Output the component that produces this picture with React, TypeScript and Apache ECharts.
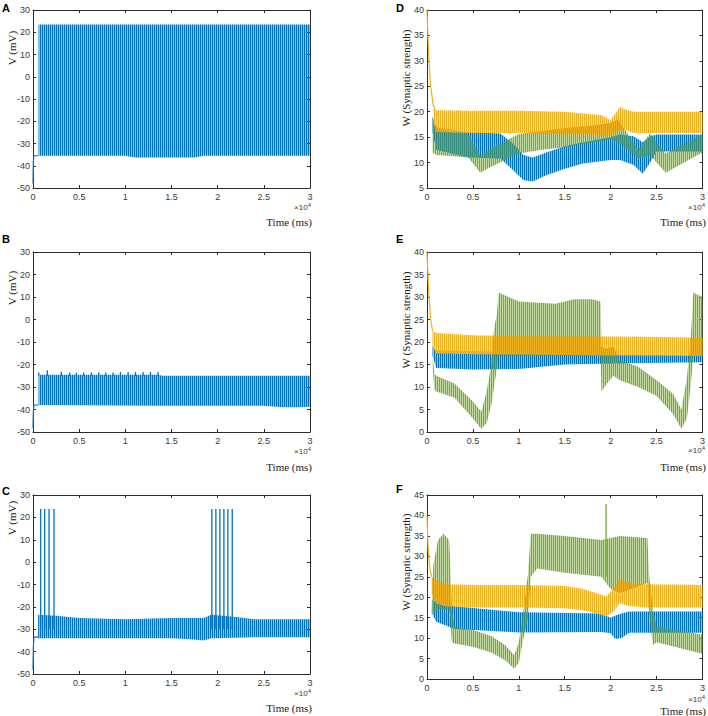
import React, { useEffect, useRef } from 'react';
import * as echarts from 'echarts';

const BLUE = '#0072BD';
const YELLOW = '#EDB120';
const GREEN = '#77AC30';

// ---------- Panel A (membrane potential) ----------
const aPreT = [0, 40, 100, 600];
const aPreV = [-48, -38, -35.5, -35.5];
const aBandT = [600, 10000, 11000, 17500, 18500, 30000];
const aBandLo = [-35.5, -35.5, -36.3, -36.3, -35.5, -35.5];
const aBandHi = [23.5, 23.5, 23.5, 23.5, 23.5, 23.5];

// ---------- Panel B ----------
const bPreT = [0, 40, 100, 600];
const bPreV = [-48, -41, -38, -38];
const bBandT = [600, 13600, 14000, 25000, 27000, 29000, 30000];
const bBandLo = [-38, -38.3, -38.3, -38.3, -39, -39, -38.8];
const bBandHi = [-24.5, -24.5, -25, -25, -25, -25, -25];
const bSpikeT = [614, 1554, 3072, 3976, 4699, 5494, 6325, 7120, 7880, 8675, 9470, 10301, 11096, 11928, 12723, 13554];
const bSpikePeak = [-23.5, -22.6, -23.3, -23.6, -23.6, -23.6, -23.5, -23.5, -23.5, -23.5, -23.3, -23.3, -23.3, -23.3, -23.3, -23.3];
const bSpikeBase = -25;

// ---------- Panel C ----------
const cPreT = [0, 40, 100, 550];
const cPreV = [-48, -38, -33.5, -33.5];
const cBandT = [550, 2500, 5000, 10000, 15000, 17000, 18500, 19300, 22000, 24000, 30000];
const cBandLo = [-34, -34, -34, -34, -34, -34.5, -35, -34, -33.8, -33.6, -33.6];
const cBandHi = [-23.5, -24, -25, -25.5, -25, -25, -25, -23.5, -24.5, -25.5, -25.5];
const cSpikeT = [831, 1265, 1735, 2277, 19373, 19807, 20241, 20675, 21108, 21578];
const cSpikePeak = [23.7, 23.7, 23.7, 23.7, 23.7, 23.7, 23.7, 23.7, 23.7, 23.7];
const cSpikeBase = -30;

// ---------- Panel D (synaptic weights) ----------
const dDecayT = [0, 100, 220, 400, 700];
const dDecayV = [40, 35, 30, 25, 21];
const dYT = [700, 1000, 5000, 10000, 15000, 18000, 19000, 20000, 21000, 21500, 22500, 30000];
const dYLo = [18, 16, 15.8, 15.8, 15.5, 15.5, 15.3, 15.3, 16.5, 16.5, 15.8, 15.8];
const dYHi = [21.5, 20.3, 20.2, 20.2, 20, 19.5, 19.3, 18.3, 21.0, 20.5, 20, 20];
const dBT = [600, 1000, 4500, 8000, 9500, 10500, 11500, 13000, 15000, 17000, 20000, 21000, 22500, 23500, 24300, 25000, 30000];
const dBLo = [16, 12.5, 11, 10.8, 8.3, 6.5, 6.3, 7.5, 8.8, 9.8, 10.5, 10.5, 9.5, 7.8, 10, 12.2, 12.2];
const dBHi = [19, 17, 16, 15.7, 13.5, 11.5, 11, 12, 13.2, 14, 15, 15.5, 15.2, 14, 15.2, 15.5, 15.5];
const dGT = [600, 1000, 2500, 4500, 5800, 7000, 8500, 10000, 12500, 15000, 17500, 20000, 20800, 23000, 24300, 25000, 26000, 28000, 30000];
const dGLo = [12, 11.5, 11.3, 11, 8, 9.2, 10.5, 11.8, 12.5, 13, 13.8, 14.5, 14, 10.8, 11.5, 10, 8, 10, 12];
const dGHi = [19, 17, 16, 15.5, 11.5, 12.8, 14.2, 15.6, 16.2, 16.8, 17.2, 17.8, 18.5, 12.5, 15.8, 14, 11.8, 13.8, 15.5];

// ---------- Panel E ----------
const eDecayT = [0, 100, 220, 400, 600];
const eDecayV = [40, 35, 30, 25, 22.5];
const eYT = [600, 1000, 5000, 10000, 20000, 30000];
const eYLo = [19, 17.5, 17.3, 17.2, 17, 17];
const eYHi = [22.5, 22, 21.5, 21.3, 21.2, 21];
const eBT = [600, 1000, 5000, 10000, 15000, 20000, 30000];
const eBLo = [17, 14.2, 13.9, 14, 15, 15.2, 15.5];
const eBHi = [19, 18.2, 18, 17.8, 17.3, 17.2, 17];
const eGT = [600, 800, 1000, 3000, 5000, 5900, 6500, 7000, 7300, 7600, 7800, 10000, 14000, 16000, 18000, 18900, 19000, 19500, 20300, 21000, 23000, 25000, 26800, 27700, 28300, 28700, 29000, 30000];
const eGLo = [15, 9.5, 9, 7.6, 3, 0.7, 2, 6, 10, 14, 17, 17, 17, 17, 17, 17, 9, 10.5, 12.5, 11.5, 10, 8, 4, 0.7, 3, 10, 17, 17];
const eGHi = [17, 13, 12.5, 10.8, 6.8, 4.5, 9, 15, 23, 26, 31, 29, 28.5, 29.5, 29.5, 29, 19, 18.5, 19, 16, 14.5, 11.5, 8.5, 5, 12, 20, 31, 30];

// ---------- Panel F ----------
const fDecayT = [0, 100, 250, 500];
const fDecayV = [40, 33, 28, 25];
const fYT = [500, 1000, 2000, 5000, 10000, 15000, 17000, 18500, 19500, 20300, 21000, 22000, 24000, 30000];
const fYLo = [21, 18.5, 17.8, 17.5, 17.5, 17.3, 16.8, 16, 15.3, 16.5, 18.5, 17.8, 17.5, 17.5];
const fYHi = [25, 24, 23.2, 23, 23, 22.8, 22, 21, 20.2, 22, 24.5, 23.5, 23.2, 23];
const fBT = [600, 1000, 3000, 10000, 19000, 20000, 20500, 21200, 22000, 30000];
const fBLo = [15.8, 14, 12.2, 11.4, 11.5, 11.2, 9.8, 10, 11.3, 11.3];
const fBHi = [19.3, 18.8, 17.8, 16.3, 16, 15, 15.5, 16, 16.5, 16.5];
const fGT = [500, 700, 1200, 1800, 2400, 2500, 2700, 3000, 5000, 7000, 8500, 9500, 10000, 10500, 11000, 11300, 12000, 15000, 19000, 20000, 21000, 24000, 24200, 24600, 25000, 30000];
const fGLo = [16, 16, 17, 17, 17, 16, 9, 8.7, 7.9, 6.5, 4.6, 2.5, 4, 10, 15, 25, 27, 26, 25, 22, 21, 23.5, 16, 8.3, 9, 6.2];
const fGHi = [16.5, 28, 34, 35.5, 34, 30, 17, 12.9, 12, 10.5, 8.3, 5.8, 9, 16.6, 25.7, 35.5, 35.5, 35, 34, 34.5, 35, 34.5, 25, 17, 12.9, 10.8];
const fGSpikeT = [19500];
const fGSpikePeak = [42.8];
const fGSpikeBase = 25;

// axis tick settings
const xMax = 30000;
const xInterval = 5000;

type Panel = {
  key: string; left: number; top: number; width: number; height: number;
  ymin: number; ymax: number; yint: number; ylabel: string;
  ylabelY: number; letterY: number; expY: number; timeY: number;
};

const PANELS: Panel[] = [
  { key: 'A', left: 33, top: 10, width: 277, height: 178, ymin: -50, ymax: 30, yint: 10, ylabel: 'V (mV)', ylabelY: 48, letterY: 2, expY: 207, timeY: 222 },
  { key: 'B', left: 33, top: 252, width: 277, height: 180, ymin: -50, ymax: 30, yint: 10, ylabel: 'V (mV)', ylabelY: 288, letterY: 233, expY: 451, timeY: 467 },
  { key: 'C', left: 33, top: 495, width: 277, height: 179, ymin: -50, ymax: 30, yint: 10, ylabel: 'V (mV)', ylabelY: 518, letterY: 485, expY: 693, timeY: 708 },
  { key: 'D', left: 427, top: 10, width: 277, height: 178, ymin: 5, ymax: 40, yint: 5, ylabel: 'W (Synaptic strength)', ylabelY: 78, letterY: 2, expY: 207, timeY: 222 },
  { key: 'E', left: 427, top: 252, width: 277, height: 180, ymin: 0, ymax: 40, yint: 5, ylabel: 'W (Synaptic strength)', ylabelY: 320, letterY: 233, expY: 450, timeY: 467 },
  { key: 'F', left: 427, top: 495, width: 277, height: 184, ymin: 0, ymax: 45, yint: 5, ylabel: 'W (Synaptic strength)', ylabelY: 562, letterY: 483, expY: 699, timeY: 711 },
];

function stripe(hex: string, offset: number) {
  const c = document.createElement('canvas');
  c.width = 2; c.height = 1;
  const ctx = c.getContext('2d')!;
  ctx.fillStyle = hex;
  ctx.globalAlpha = 1;
  ctx.fillRect(offset, 0, 1, 1);
  ctx.globalAlpha = 0.45;
  ctx.fillRect(1 - offset, 0, 1, 1);
  return { image: c.toDataURL(), repeat: 'repeat', imageWidth: 2, imageHeight: 1 };
}

function band(gi: number, t: number[], lo: number[], hi: number[], fill: any) {
  const data = t.map((x, i) => [x, lo[i], hi[i]]);
  return {
    type: 'custom',
    xAxisIndex: gi * 2,
    yAxisIndex: gi * 2,
    data,
    encode: { x: 0, y: [1, 2] },
    clip: true,
    renderItem: (params: any, api: any) => {
      if (params.dataIndex !== 0) return null;
      const top = data.map((d) => api.coord([d[0], d[2]]));
      const bot = data.map((d) => api.coord([d[0], d[1]])).reverse();
      return { type: 'polygon', shape: { points: top.concat(bot) }, style: { fill, stroke: null } };
    },
  };
}

function trace(gi: number, t: number[], v: number[], color: string) {
  return {
    type: 'line',
    xAxisIndex: gi * 2,
    yAxisIndex: gi * 2,
    data: t.map((x, i) => [x, v[i]]),
    showSymbol: false,
    symbol: 'none',
    lineStyle: { color, width: 1.2 },
    silent: true,
  };
}

function spikes(gi: number, t: number[], peak: number[], base: number, color: string) {
  const data = t.map((x, i) => [x, base, peak[i]]);
  return {
    type: 'custom',
    xAxisIndex: gi * 2,
    yAxisIndex: gi * 2,
    data,
    encode: { x: 0, y: [1, 2] },
    renderItem: (params: any, api: any) => {
      const p0 = api.coord([api.value(0), api.value(1)]);
      const p1 = api.coord([api.value(0), api.value(2)]);
      return { type: 'line', shape: { x1: p0[0], y1: p0[1], x2: p1[0], y2: p1[1] }, style: { stroke: color, lineWidth: 1.3 } };
    },
  };
}

function buildOption() {
  const pB = stripe(BLUE, 0);
  const pY = stripe(YELLOW, 0);
  const pG = stripe(GREEN, 1);
  const axisColor = '#2b2b2b';
  const labelStyle = { fontSize: 9, color: '#3a3a3a', fontFamily: 'Liberation Sans, Arial, sans-serif' };

  const grid: any[] = [];
  const xAxis: any[] = [];
  const yAxis: any[] = [];
  const graphic: any[] = [];

  PANELS.forEach((p, gi) => {
    grid.push({ left: p.left, top: p.top, width: p.width, height: p.height, containLabel: false });
    const xBase = {
      type: 'value', gridIndex: gi, min: 0, max: xMax, interval: xInterval,
      axisLine: { show: true, onZero: false, lineStyle: { color: axisColor, width: 1 } },
      axisTick: { show: true, inside: true, length: 3, lineStyle: { color: axisColor } },
      splitLine: { show: false },
    };
    xAxis.push({ ...xBase, position: 'bottom', axisLabel: { ...labelStyle, margin: 4, formatter: (v: number) => String(v / 10000) } });
    xAxis.push({ ...xBase, position: 'top', axisLabel: { show: false } });
    const yBase = {
      type: 'value', gridIndex: gi, min: p.ymin, max: p.ymax, interval: p.yint,
      axisLine: { show: true, onZero: false, lineStyle: { color: axisColor, width: 1 } },
      axisTick: { show: true, inside: true, length: 3, lineStyle: { color: axisColor } },
      splitLine: { show: false },
    };
    yAxis.push({ ...yBase, position: 'left', axisLabel: { ...labelStyle, margin: 3 } });
    yAxis.push({ ...yBase, position: 'right', axisLabel: { show: false } });

    const right = p.left + p.width;
    graphic.push({
      type: 'text', x: p.left - 31, y: p.letterY,
      style: { text: p.key, font: 'bold 11px "Liberation Sans", Arial, sans-serif', fill: '#000' },
    });
    graphic.push({
      type: 'text', x: p.left - 21, y: p.ylabelY, rotation: Math.PI / 2,
      style: { text: p.ylabel, font: '11px "Liberation Serif", "Times New Roman", serif', fill: '#222', align: 'center', verticalAlign: 'middle' },
    });
    graphic.push({
      type: 'text', x: right + 1, y: p.expY,
      style: {
        text: '×10{s|4}', align: 'right', verticalAlign: 'middle',
        font: '8px "Liberation Sans", Arial, sans-serif', fill: '#3a3a3a',
        rich: { s: { fontSize: 6, verticalAlign: 'top', fill: '#3a3a3a', padding: [0, 0, 5, 0] } },
      },
    });
    graphic.push({
      type: 'text', x: right + 2, y: p.timeY,
      style: { text: 'Time (ms)', align: 'right', verticalAlign: 'middle', font: '11px "Liberation Serif", "Times New Roman", serif', fill: '#222' },
    });
  });

  const series: any[] = [
    // A
    band(0, aBandT, aBandLo, aBandHi, pB),
    trace(0, aPreT, aPreV, BLUE),
    // B
    band(1, bBandT, bBandLo, bBandHi, pB),
    trace(1, bPreT, bPreV, BLUE),
    spikes(1, bSpikeT, bSpikePeak, bSpikeBase, BLUE),
    // C
    band(2, cBandT, cBandLo, cBandHi, pB),
    trace(2, cPreT, cPreV, BLUE),
    spikes(2, cSpikeT, cSpikePeak, cSpikeBase, BLUE),
    // D
    band(3, dBT, dBLo, dBHi, pB),
    band(3, dGT, dGLo, dGHi, pG),
    band(3, dYT, dYLo, dYHi, pY),
    trace(3, dDecayT, dDecayV, YELLOW),
    // E
    band(4, eBT, eBLo, eBHi, pB),
    band(4, eGT, eGLo, eGHi, pG),
    band(4, eYT, eYLo, eYHi, pY),
    trace(4, eDecayT, eDecayV, YELLOW),
    // F
    band(5, fBT, fBLo, fBHi, pB),
    band(5, fGT, fGLo, fGHi, pG),
    spikes(5, fGSpikeT, fGSpikePeak, fGSpikeBase, GREEN),
    band(5, fYT, fYLo, fYHi, pY),
    trace(5, fDecayT, fDecayV, YELLOW),
  ];

  return { animation: false, backgroundColor: '#fff', grid, xAxis, yAxis, series, graphic };
}

export default function App() {
  const ref = useRef<HTMLDivElement>(null);
  useEffect(() => {
    const chart = echarts.init(ref.current!, null, { renderer: 'svg' });
    chart.setOption(buildOption() as any);
    return () => chart.dispose();
  }, []);
  return <div ref={ref} style={{ position: 'fixed', left: 0, top: 0, width: 708, height: 716 }} />;
}
